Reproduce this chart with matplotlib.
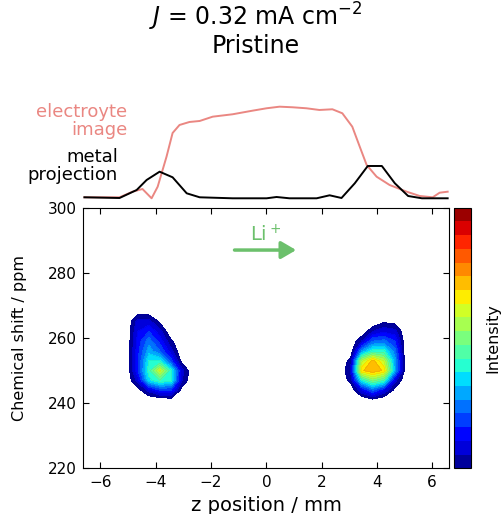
# Imagen RMN de Li metálico: perfiles superiores + mapa 2D de desplazamiento químico
# J = 0.32 mA cm-2, celda prístina

import numpy as np
import matplotlib.pyplot as plt

plt.rcParams['font.family'] = 'DejaVu Sans'
plt.rcParams['mathtext.fontset'] = 'dejavusans'

# Perfil del electrolito (z en mm, intensidad relativa)
z_electrolyte = [-6.58, -5.31, -4.84, -4.48, -4.15, -3.93, -3.61, -3.39, -3.14, -2.78,
                 -2.41, -1.94, -1.22, -0.50, 0.01, 0.48, 0.95, 1.45, 1.92, 2.39,
                 2.75, 3.11, 3.38, 3.63, 3.99, 4.46, 5.08, 5.55, 6.02, 6.27, 6.56]
electrolyte = [2.7, 2.7, 8.3, 11.0, 1.7, 13.3, 43.3, 67.0, 75.0, 78.0,
               79.0, 83.3, 85.7, 89.3, 91.7, 93.3, 92.7, 91.7, 90.0, 90.7,
               86.7, 73.3, 53.3, 35.0, 23.3, 15.0, 8.3, 4.0, 2.7, 7.3, 8.3]

# Proyección del metal
z_metal = [-6.58, -5.31, -4.69, -4.33, -3.86, -3.39, -2.88, -2.41, -1.22, 0.01, 0.37,
           0.84, 1.82, 2.29, 2.72, 3.20, 3.67, 4.18, 4.65, 5.13, 5.63, 6.56]
metal = [2.7, 2.0, 10.0, 20.0, 28.3, 22.7, 6.7, 2.7, 1.7, 1.7, 3.0,
         1.7, 1.7, 4.7, 2.0, 16.7, 34.0, 34.0, 16.7, 4.0, 1.7, 1.7]

# Mapa 2D, depósito izquierdo (filas = ppm, columnas = z)
z_left = [-5.05, -4.65, -4.25, -3.85, -3.45, -3.05, -2.65]
ppm_left = [271, 268, 265, 262, 259, 256, 253, 250, 247, 244, 241, 238]
int_left = [
    [0, 0.00, 0.00, 0.00, 0.00, 0.00, 0],
    [0, 0.02, 0.02, 0.00, 0.00, 0.00, 0],
    [0, 0.12, 0.12, 0.04, 0.00, 0.00, 0],
    [0, 0.15, 0.20, 0.12, 0.00, 0.00, 0],
    [0, 0.17, 0.28, 0.18, 0.06, 0.00, 0],
    [0, 0.18, 0.33, 0.25, 0.12, 0.00, 0],
    [0, 0.19, 0.40, 0.40, 0.22, 0.02, 0],
    [0, 0.19, 0.43, 0.62, 0.42, 0.12, 0],
    [0, 0.12, 0.38, 0.45, 0.42, 0.10, 0],
    [0, 0.02, 0.12, 0.20, 0.20, 0.02, 0],
    [0, 0.00, 0.00, 0.00, 0.02, 0.00, 0],
    [0, 0.00, 0.00, 0.00, 0.00, 0.00, 0],
]

# Mapa 2D, depósito derecho
z_right = [2.65, 3.05, 3.45, 3.85, 4.25, 4.65, 5.05]
ppm_right = [268, 265, 262, 259, 256, 253, 250, 247, 244, 241, 238]
int_right = [
    [0, 0.00, 0.00, 0.00, 0.00, 0.00, 0],
    [0, 0.00, 0.00, 0.00, 0.04, 0.03, 0],
    [0, 0.00, 0.00, 0.10, 0.14, 0.12, 0],
    [0, 0.00, 0.10, 0.25, 0.27, 0.20, 0],
    [0, 0.00, 0.30, 0.42, 0.42, 0.27, 0],
    [0, 0.07, 0.58, 0.72, 0.60, 0.32, 0],
    [0, 0.10, 0.69, 0.74, 0.69, 0.33, 0],
    [0, 0.07, 0.40, 0.52, 0.45, 0.12, 0],
    [0, 0.00, 0.14, 0.25, 0.15, 0.03, 0],
    [0, 0.00, 0.00, 0.03, 0.00, 0.00, 0],
    [0, 0.00, 0.00, 0.00, 0.00, 0.00, 0],
]

xticks = [-6, -4, -2, 0, 2, 4, 6]
yticks = [220, 240, 260, 280, 300]

pink = '#ea8782'
green = '#6cc06c'
levels = np.linspace(0.05, 1.0, 20)
xlim = (-6.62, 6.62)

fig = plt.figure(figsize=(5.04, 5.14), dpi=100)
ax = fig.add_axes([0.1653, 0.0889, 0.7262, 0.507])
ax_top = fig.add_axes([0.1653, 0.6109, 0.7262, 0.1946])
cax = fig.add_axes([0.9014, 0.0889, 0.0337, 0.507])

# perfiles
ax_top.plot(z_electrolyte, electrolyte, color=pink, lw=1.4)
ax_top.plot(z_metal, metal, color='black', lw=1.4)
ax_top.set_xlim(*xlim)
ax_top.set_ylim(0, 100)
ax_top.axis('off')
ax_top.text(-5.02, 79, 'electroyte\nimage', color=pink, fontsize=13, ha='right',
            va='center', multialignment='right', linespacing=0.95)
ax_top.text(-5.37, 34, 'metal\nprojection', color='black', fontsize=13, ha='right',
            va='center', multialignment='right', linespacing=0.95)

# mapa de contornos
cf = ax.contourf(z_left, ppm_left, int_left, levels=levels, cmap='jet')
ax.contourf(z_right, ppm_right, int_right, levels=levels, cmap='jet')
ax.contour(z_left, ppm_left, int_left, levels=levels, colors='k', linewidths=0.3, alpha=0.12)
ax.contour(z_right, ppm_right, int_right, levels=levels, colors='k', linewidths=0.3, alpha=0.12)

ax.annotate('', xy=(1.08, 287.0), xytext=(-1.15, 287.0),
            arrowprops=dict(arrowstyle='-|>,head_length=0.6,head_width=0.35', lw=2.5,
                            color=green, mutation_scale=15, shrinkA=0, shrinkB=0))
ax.text(-0.03, 289.6, r'Li$^+$', color=green, fontsize=14, ha='center', va='baseline')

ax.set_xlim(*xlim)
ax.set_ylim(220, 300)
ax.set_xticks(xticks)
ax.set_yticks(yticks)
ax.tick_params(direction='in', top=True, right=True, length=4, width=0.8,
               labelsize=11, pad=4.5)
ax.set_xlabel('z position / mm', fontsize=14, labelpad=5)
ax.set_ylabel('Chemical shift / ppm', fontsize=11.5, labelpad=15)

cb = fig.colorbar(cf, cax=cax)
cb.set_ticks([])
cb.set_label('Intensity', fontsize=11.5, labelpad=10)

fig.text(0.508, 1 - 17 / 514, r'$J$ = 0.32 mA cm$^{-2}$', fontsize=17,
         ha='center', va='center')
fig.text(0.508, 1 - 46 / 514, 'Pristine', fontsize=17, ha='center', va='center')

fig.savefig('out.png', dpi=100)
